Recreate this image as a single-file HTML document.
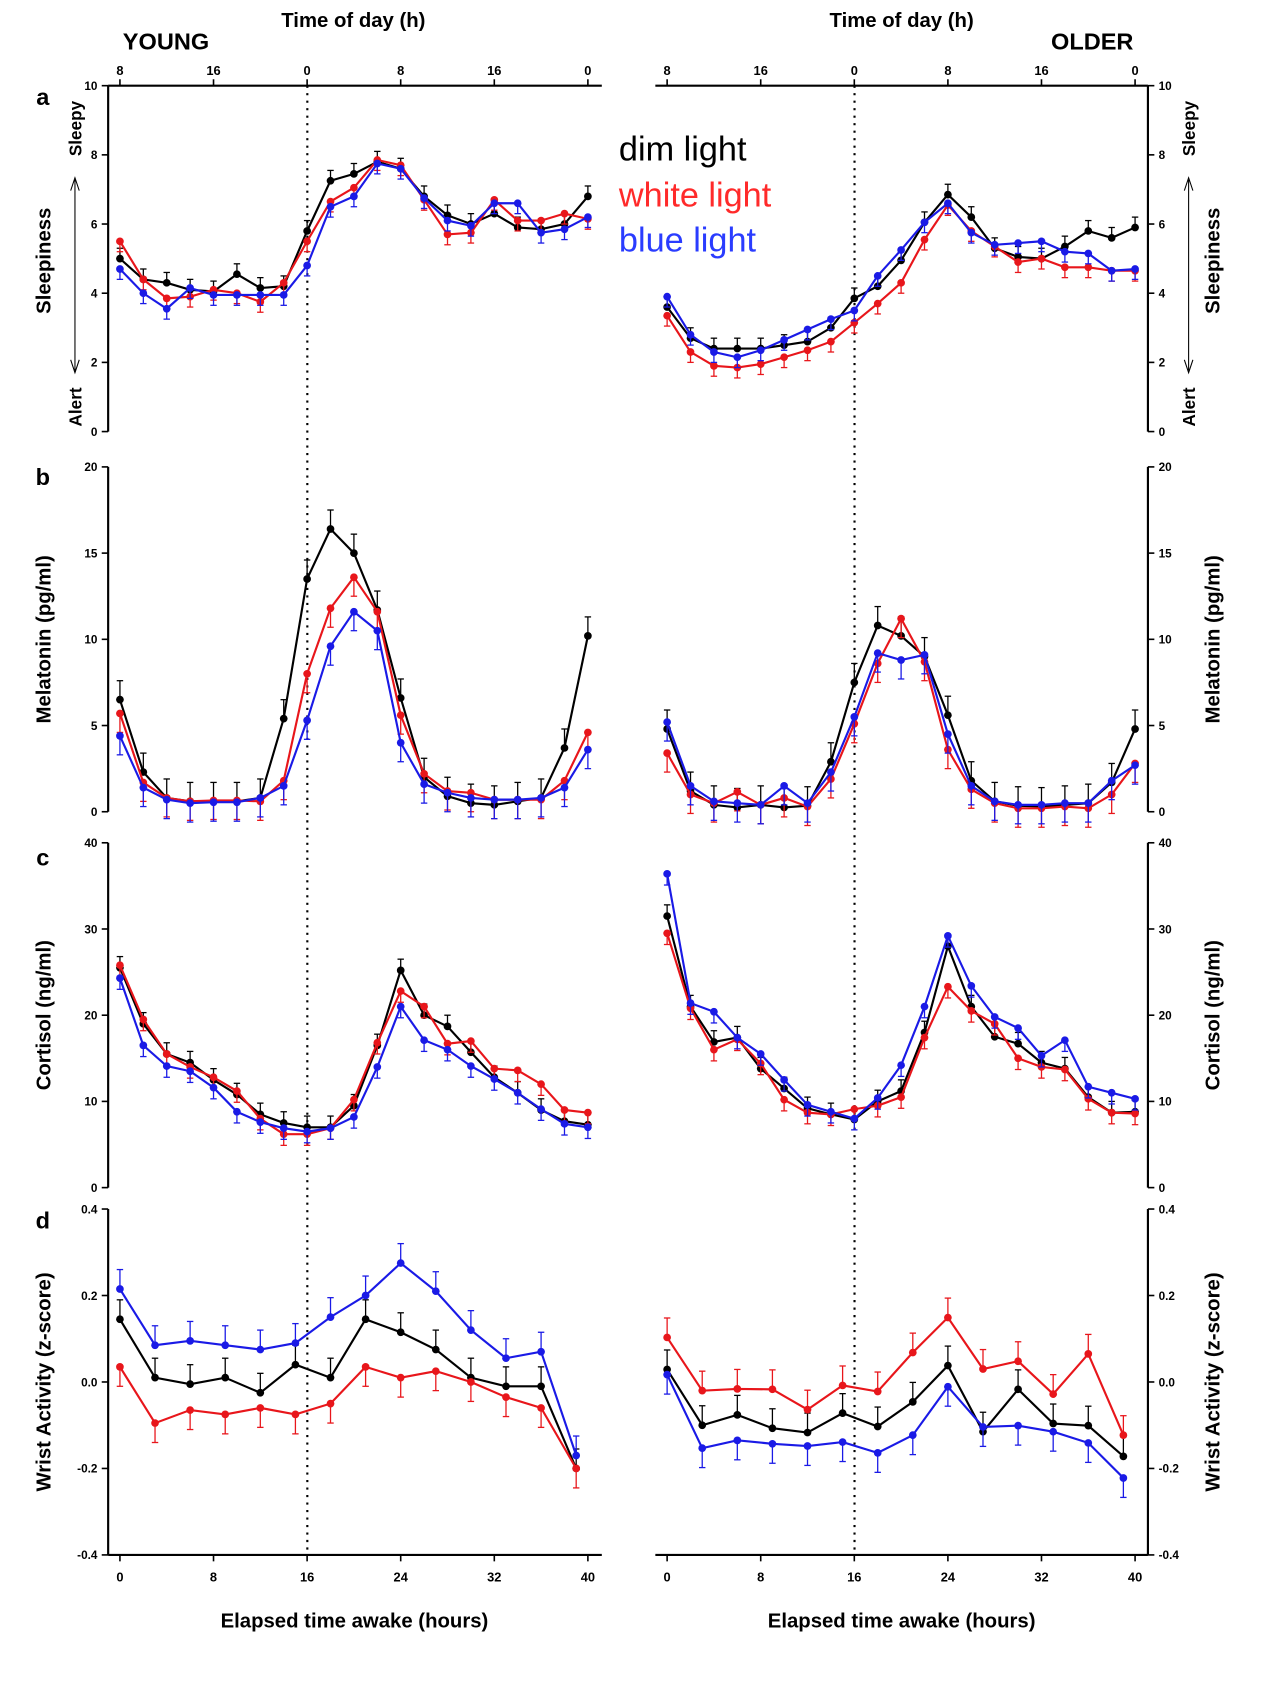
<!DOCTYPE html>
<html><head><meta charset="utf-8"><style>
html,body{margin:0;padding:0;background:#fff}
svg{display:block}
text{font-family:"Liberation Sans",Arial,sans-serif}
</style></head><body>
<svg id="fig" width="1270" height="1692" viewBox="0 0 1186 1580" preserveAspectRatio="none" xmlns="http://www.w3.org/2000/svg">
<g id="static">
<text x="330" y="25" font-size="19" font-weight="bold" text-anchor="middle">Time of day (h)</text>
<text x="842" y="25" font-size="19" font-weight="bold" text-anchor="middle">Time of day (h)</text>
<text x="155" y="46" font-size="22" font-weight="bold" text-anchor="middle">YOUNG</text>
<text x="1020" y="46" font-size="22" font-weight="bold" text-anchor="middle">OLDER</text>
<text x="40" y="98" font-size="22" font-weight="bold" text-anchor="middle">a</text>
<text x="40" y="453" font-size="22" font-weight="bold" text-anchor="middle">b</text>
<text x="40" y="808" font-size="22" font-weight="bold" text-anchor="middle">c</text>
<text x="40" y="1147" font-size="22" font-weight="bold" text-anchor="middle">d</text>
<text x="331" y="1520" font-size="19" font-weight="bold" text-anchor="middle">Elapsed time awake (hours)</text>
<text x="842" y="1520" font-size="19" font-weight="bold" text-anchor="middle">Elapsed time awake (hours)</text>
<text x="578" y="150" font-size="32" fill="#000">dim light</text>
<text x="578" y="193" font-size="32" fill="#ff2a2a">white light</text>
<text x="578" y="235" font-size="32" fill="#2a3cff">blue light</text>
</g>
<g id="plots"></g>
</svg>
<script>
// ---------- data ----------
const hours2 = [0,2,4,6,8,10,12,14,16,18,20,22,24,26,28,30,32,34,36,38,40];
const hours3 = [0,3,6,9,12,15,18,21,24,27,30,33,36,39];
const todLabels = ["8","16","0","8","16","0"];
const todHours = [0,8,16,24,32,40];
const xTickLabels = ["0","8","16","24","32","40"];
const xTickHours = [0,8,16,24,32,40];

const youngSleepDim   = [5.0,4.4,4.3,4.1,4.05,4.55,4.15,4.2,5.8,7.25,7.45,7.8,7.6,6.8,6.25,6.0,6.3,5.9,5.85,6.0,6.8];
const youngSleepWhite = [5.5,4.4,3.85,3.9,4.1,4.0,3.75,4.3,5.5,6.65,7.05,7.85,7.7,6.7,5.7,5.75,6.7,6.1,6.1,6.3,6.15];
const youngSleepBlue  = [4.7,4.0,3.55,4.15,3.95,3.95,3.95,3.95,4.8,6.5,6.8,7.75,7.6,6.75,6.1,5.95,6.6,6.6,5.75,5.85,6.2];
const olderSleepDim   = [3.6,2.7,2.4,2.4,2.4,2.5,2.6,3.0,3.85,4.2,4.95,6.05,6.85,6.2,5.3,5.05,5.0,5.35,5.8,5.6,5.9];
const olderSleepWhite = [3.35,2.3,1.9,1.85,1.95,2.15,2.35,2.6,3.15,3.7,4.3,5.55,6.55,5.8,5.35,4.9,5.0,4.75,4.75,4.65,4.65];
const olderSleepBlue  = [3.9,2.8,2.3,2.15,2.35,2.65,2.95,3.25,3.5,4.5,5.25,6.05,6.6,5.75,5.4,5.45,5.5,5.2,5.15,4.65,4.7];

const youngMelDim   = [6.5,2.3,0.8,0.6,0.6,0.6,0.8,5.4,13.5,16.4,15.0,11.7,6.6,2.0,0.9,0.5,0.4,0.6,0.8,3.7,10.2];
const youngMelWhite = [5.7,1.7,0.8,0.6,0.65,0.65,0.6,1.8,8.0,11.8,13.6,11.6,5.6,2.2,1.2,1.1,0.7,0.7,0.7,1.8,4.6];
const youngMelBlue  = [4.4,1.4,0.7,0.5,0.55,0.55,0.8,1.5,5.3,9.6,11.6,10.5,4.0,1.6,1.1,0.8,0.7,0.7,0.8,1.4,3.6];
const olderMelDim   = [4.8,1.2,0.4,0.25,0.4,0.25,0.35,2.9,7.5,10.8,10.2,9.0,5.6,1.8,0.6,0.35,0.3,0.4,0.5,1.7,4.8];
const olderMelWhite = [3.4,1.0,0.5,1.15,0.4,0.8,0.3,1.9,5.1,8.6,11.2,8.7,3.6,1.3,0.5,0.2,0.2,0.3,0.2,1.0,2.8];
const olderMelBlue  = [5.2,1.5,0.6,0.5,0.4,1.5,0.5,2.3,5.5,9.2,8.8,9.1,4.5,1.5,0.6,0.4,0.4,0.5,0.5,1.8,2.7];

const youngCortDim   = [25.5,19.0,15.5,14.5,12.5,10.8,8.5,7.5,7.0,7.0,9.5,16.5,25.2,20.0,18.7,15.7,12.8,11.0,9.0,7.7,7.3];
const youngCortWhite = [25.8,19.5,15.5,14.0,12.8,11.2,8.0,6.2,6.2,6.9,10.2,16.8,22.8,21.0,16.7,17.0,13.8,13.6,12.0,9.0,8.7];
const youngCortBlue  = [24.3,16.5,14.1,13.5,11.6,8.8,7.6,6.9,6.5,6.9,8.2,14.0,21.0,17.1,16.0,14.1,12.6,11.0,9.1,7.4,7.0];
const olderCortDim   = [31.5,21.0,16.9,17.4,13.8,11.5,9.2,8.5,7.9,10.0,11.2,18.0,28.0,21.0,17.5,16.7,14.5,13.8,10.5,8.7,8.8];
const olderCortWhite = [29.5,20.8,16.0,17.2,14.4,10.2,8.7,8.5,9.1,9.5,10.5,17.4,23.3,20.5,19.0,15.0,14.0,13.7,10.3,8.7,8.6];
const olderCortBlue  = [36.4,21.4,20.4,17.4,15.5,12.5,9.6,8.8,8.0,10.4,14.2,21.0,29.2,23.4,19.8,18.5,15.3,17.1,11.7,11.0,10.3];

const youngWristDim   = [0.145,0.01,-0.005,0.01,-0.025,0.04,0.01,0.145,0.115,0.075,0.01,-0.01,-0.01,-0.2];
const youngWristWhite = [0.035,-0.095,-0.065,-0.075,-0.06,-0.075,-0.05,0.035,0.01,0.025,0.0,-0.035,-0.06,-0.2];
const youngWristBlue  = [0.215,0.085,0.095,0.085,0.075,0.09,0.15,0.2,0.275,0.21,0.12,0.055,0.07,-0.17];
const olderWristDim   = [0.029,-0.1,-0.076,-0.107,-0.117,-0.072,-0.103,-0.046,0.038,-0.115,-0.017,-0.096,-0.101,-0.172];
const olderWristWhite = [0.103,-0.02,-0.016,-0.017,-0.064,-0.008,-0.022,0.068,0.149,0.03,0.048,-0.028,0.065,-0.123];
const olderWristBlue  = [0.017,-0.153,-0.135,-0.143,-0.148,-0.139,-0.164,-0.123,-0.011,-0.104,-0.101,-0.115,-0.141,-0.222];

const sleepTicks = ["0","2","4","6","8","10"];
const melTicks = ["0","5","10","15","20"];
const cortTicks = ["0","10","20","30","40"];
const wristTicks = ["-0.4","-0.2","0.0","0.2","0.4"];

// ---------- layout ----------
const NS = "http://www.w3.org/2000/svg";
const root = document.getElementById('plots');
const colors = {dim:"#000", white:"#e8161b", blue:"#1a1ae6"};
const sides = {
  young:{x0:112, x40:549, axisX:101, lineL:101, lineR:562, dir:-1, dotX:287},
  older:{x0:623, x40:1060, axisX:1072, lineL:612, lineR:1072, dir:1, dotX:798}
};
const panels = [
  {key:"sleep", top:80, bot:403, min:0, max:10, ticks:sleepTicks, title:"Sleepiness", err:0.3, hours:hours2},
  {key:"mel", top:436, bot:758, min:0, max:20, ticks:melTicks, title:"Melatonin (pg/ml)", err:1.1, hours:hours2},
  {key:"cort", top:787, bot:1109, min:0, max:40, ticks:cortTicks, title:"Cortisol (ng/ml)", err:1.3, hours:hours2},
  {key:"wrist", top:1129, bot:1452, min:-0.4, max:0.4, ticks:wristTicks, title:"Wrist Activity (z-score)", err:0.045, hours:hours3}
];
const series = {
  young:{sleep:[youngSleepDim,youngSleepWhite,youngSleepBlue], mel:[youngMelDim,youngMelWhite,youngMelBlue], cort:[youngCortDim,youngCortWhite,youngCortBlue], wrist:[youngWristDim,youngWristWhite,youngWristBlue]},
  older:{sleep:[olderSleepDim,olderSleepWhite,olderSleepBlue], mel:[olderMelDim,olderMelWhite,olderMelBlue], cort:[olderCortDim,olderCortWhite,olderCortBlue], wrist:[olderWristDim,olderWristWhite,olderWristBlue]}
};
const seriesNames = ["dim","white","blue"];

function mk(tag, attrs, parent){
  const e = document.createElementNS(NS, tag);
  for (const k in attrs) e.setAttribute(k, attrs[k]);
  (parent||root).appendChild(e);
  return e;
}

for (const sk of ["young","older"]) {
  const S = sides[sk];
  const xs = h => S.x0 + (S.x40 - S.x0) * h / 40;
  // dotted line
  const dl = mk('line',{x1:S.dotX,x2:S.dotX,y1:80,y2:1452,stroke:"#000","stroke-width":2,"stroke-dasharray":"2,5"});
  
  
  // top axis
  const ta = mk('line',{x1:S.lineL,x2:S.lineR,y1:80,y2:80,stroke:"#000","stroke-width":2});
  
  
  todHours.forEach((h,i)=>{
    mk('line',{x1:xs(h),x2:xs(h),y1:80,y2:74,stroke:"#000","stroke-width":1.5});
    const t = mk('text',{x:xs(h),y:70,"font-size":12,"font-weight":"bold","text-anchor":"middle"});
    t.textContent = todLabels[i];
    
    
  });
  // bottom axis
  const ba = mk('line',{x1:S.lineL,x2:S.lineR,y1:1452,y2:1452,stroke:"#000","stroke-width":2});
  
  
  xTickHours.forEach((h,i)=>{
    mk('line',{x1:xs(h),x2:xs(h),y1:1452,y2:1458,stroke:"#000","stroke-width":1.5});
    const t = mk('text',{x:xs(h),y:1477,"font-size":12,"font-weight":"bold","text-anchor":"middle"});
    t.textContent = xTickLabels[i];
    
    
  });

  panels.forEach(P=>{
    const ys = v => P.bot - (P.bot - P.top) * (v - P.min) / (P.max - P.min);
    const g = mk('g',{});
    
    
    const ax = mk('line',{x1:S.axisX,x2:S.axisX,y1:P.top,y2:P.bot,stroke:"#000","stroke-width":2},g);
    
    
    P.ticks.forEach((lab,i)=>{
      const v = P.min + (P.max-P.min)*i/(P.ticks.length-1);
      const y = ys(v);
      mk('line',{x1:S.axisX,x2:S.axisX+6*S.dir,y1:y,y2:y,stroke:"#000","stroke-width":1.5},g);
      const t = mk('text',{x:S.axisX+10*S.dir,y:y+4,"font-size":11,"font-weight":"bold","text-anchor":S.dir<0?"end":"start"},g);
      t.textContent = lab;
      
      
    });
    // axis title
    const tx = sk==="young" ? 40 : 1132;
    const cy = (P.top+P.bot)/2 + (P.key==="sleep"?2:0);
    const tt = mk('text',{x:tx,y:cy,"font-size":19,"font-weight":"bold","text-anchor":"middle",transform:`rotate(-90 ${tx} ${cy})`,dy:7},g);
    tt.textContent = P.title;
    
    
    if (P.key==="sleep") {
      const lx = sk==="young" ? 70 : 1110;
      [["Sleepy",120],["Alert",380]].forEach(([w,yy])=>{
        const s = mk('text',{x:lx,y:yy,"font-size":16,"font-weight":"bold","text-anchor":"middle",transform:`rotate(-90 ${lx} ${yy})`,dy:6},g);
        s.textContent = w;
        
        
      });
      const al = mk('path',{d:`M${lx} 168 L${lx} 346 M${lx-4} 178 L${lx} 166 L${lx+4} 178 M${lx-4} 336 L${lx} 348 L${lx+4} 336`,stroke:"#000","stroke-width":1,fill:"none"},g);
      
      
    }
    // series
    series[sk][P.key].forEach((vals,si)=>{
      const c = colors[seriesNames[si]];
      let dir = si===0 ? 1 : -1;
      if (P.key==="wrist" && sk==="young" && si===2) dir = 1;
      if (P.key==="wrist" && sk==="older" && si===1) dir = 1;
      const sg = mk('g',{},g);
      
      
      vals.forEach((v,i)=>{
        const x = xs(P.hours[i]);
        const y1 = ys(v), y2 = ys(v + dir*P.err);
        mk('line',{x1:x,x2:x,y1:y1,y2:y2,stroke:c,"stroke-width":1.2},sg);
        mk('line',{x1:x-3,x2:x+3,y1:y2,y2:y2,stroke:c,"stroke-width":1.2},sg);
      });
      const pts = vals.map((v,i)=>xs(P.hours[i]).toFixed(1)+","+ys(v).toFixed(1)).join(" ");
      const pl = mk('polyline',{points:pts,fill:"none",stroke:c,"stroke-width":2},sg);
      
      
      vals.forEach((v,i)=>{
        const p = mk('circle',{cx:xs(P.hours[i]),cy:ys(v),r:3.6,fill:c},sg);
        
        
      });
    });
  });
}
</script>
</body></html>
